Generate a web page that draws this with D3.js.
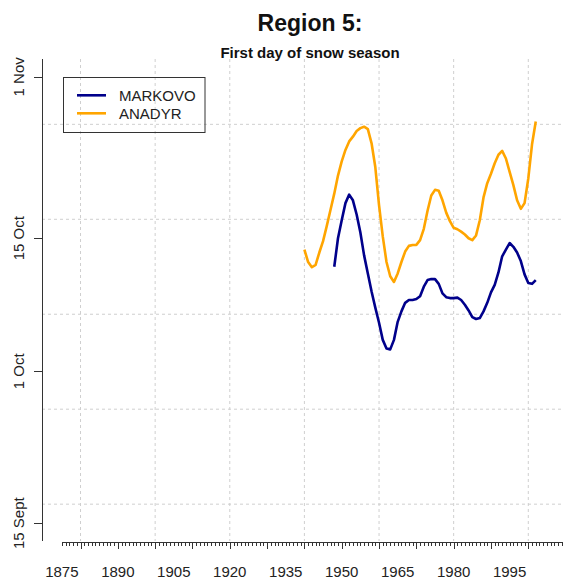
<html lang="en">
<head>
<meta charset="utf-8">
<title>Region 5: First day of snow season</title>
<script src="https://cdn.jsdelivr.net/npm/d3@7"></script>
<style type="text/css">
    body {
        margin: 0;
        background: #fff;
        font-family: "Liberation Sans", Arial, sans-serif;
    }
    .grid line {
        stroke: #cfcfcf;
        stroke-width: 1px;
        stroke-dasharray: 3,3;
    }
    .axis line,
    .axis-line {
        stroke: #333;
        stroke-width: 1px;
        shape-rendering: crispEdges;
    }
    .axis text,
    .lbl {
        fill: #222;
        font-size: 15px;
    }
</style>
</head>
<body>
<svg id="chart"></svg>
<script type="text/javascript">

    // first snow day, as day of year (258 = 15 Sept, 305 = 1 Nov)
    var anadyrStart = 1940;
    var anadyrDays = [
        286.8, 285.5, 284.95, 285.2, 286.5, 287.7, 289.3, 291.0, 292.7, 294.6,
        296.1, 297.3, 298.2, 298.7, 299.3, 299.6, 299.75, 299.5, 298.0, 295.5,
        291.5, 288.2, 285.5, 284.0, 283.4, 284.3, 285.5, 286.6, 287.2, 287.3,
        287.3, 287.8, 289.0, 290.9, 292.5, 293.1, 293.0, 292.0, 290.7, 289.8,
        289.1, 288.95, 288.7, 288.4, 288.0, 287.8, 288.3, 289.9, 292.3, 293.8,
        294.8, 295.9, 296.8, 297.2, 296.4, 295.0, 293.6, 292.0, 291.1, 291.7,
        294.3, 297.9, 300.3
    ];

    var markovoStart = 1948;
    var markovoDays = [
        285.0, 288.0, 289.9, 291.7, 292.6, 292.0, 290.5, 288.6, 286.2, 284.3,
        282.4, 280.7, 279.1, 277.3, 276.4, 276.3, 277.3, 279.2, 280.3, 281.2,
        281.5, 281.5, 281.6, 281.9, 282.9, 283.6, 283.7, 283.7, 283.2, 282.2,
        281.8, 281.7, 281.7, 281.75, 281.5, 281.0, 280.4, 279.7, 279.5, 279.6,
        280.3, 281.2, 282.3, 283.1, 284.4, 286.1, 286.8, 287.5, 287.1, 286.5,
        285.6, 284.2, 283.3, 283.2, 283.6
    ];

    var seriesNames = ["MARKOVO", "ANADYR"];
    var seriesColors = ["#00008b", "#ffa500"];

    var yTickDays = [258, 274, 288, 305];
    var yTickLabels = ["15 Sept", "1 Oct", "15 Oct", "1 Nov"];
    var yGridDays = [260, 270, 280, 290, 300];

    var xLabelYears = [1875, 1890, 1905, 1920, 1935, 1950, 1965, 1980, 1995];
    var xGridYears = [1880, 1900, 1920, 1940, 1960, 1980, 2000];
    var xMajorYears = [1880, 1890, 1900, 1910, 1920, 1930, 1940, 1950, 1960, 1970, 1980, 1990, 2000, 2010];

    var width = 563,
        height = 584;

    var plot = {left: 42, right: 578, top: 59, bottom: 541};

    // R style limits: 1875..2008 and 258..305 stretched by 4%
    var x = d3.scaleLinear()
        .domain([1875 - 0.04 * 133, 2008 + 0.04 * 133])
        .range([plot.left, plot.right]);

    var y = d3.scaleLinear()
        .domain([258 - 0.04 * 47, 305 + 0.04 * 47])
        .range([plot.bottom, plot.top]);

    var svg = d3.select("#chart")
        .attr("width", width)
        .attr("height", height);

    var midX = (plot.left + plot.right) / 2;

    svg.append("text")
        .attr("x", midX)
        .attr("y", 31)
        .attr("text-anchor", "middle")
        .style("font-size", "23px")
        .style("font-weight", "bold")
        .style("fill", "#111")
        .text("Region 5:");

    svg.append("text")
        .attr("x", midX)
        .attr("y", 57.5)
        .attr("text-anchor", "middle")
        .style("font-size", "15px")
        .style("font-weight", "bold")
        .style("fill", "#111")
        .text("First day of snow season");

    // grid
    var grid = svg.append("g").attr("class", "grid");

    grid.selectAll(".gx")
        .data(xGridYears)
        .enter().append("line")
        .attr("class", "gx")
        .attr("x1", function (d) { return x(d); })
        .attr("x2", function (d) { return x(d); })
        .attr("y1", plot.top)
        .attr("y2", plot.bottom);

    grid.selectAll(".gy")
        .data(yGridDays)
        .enter().append("line")
        .attr("class", "gy")
        .attr("x1", plot.left)
        .attr("x2", plot.right)
        .attr("y1", function (d) { return y(d); })
        .attr("y2", function (d) { return y(d); });

    // y axis
    svg.append("line")
        .attr("class", "axis-line")
        .attr("x1", plot.left + 0.5)
        .attr("x2", plot.left + 0.5)
        .attr("y1", plot.top)
        .attr("y2", plot.bottom);

    var yAxis = svg.append("g")
        .attr("class", "axis")
        .attr("transform", "translate(" + (plot.left + 0.5) + ",0)")
        .call(d3.axisLeft(y).tickValues(yTickDays).tickSize(9).tickFormat(""));
    yAxis.select(".domain").remove();

    svg.selectAll(".ylab")
        .data(yTickDays)
        .enter().append("text")
        .attr("class", "lbl ylab")
        .attr("text-anchor", "middle")
        .attr("transform", function (d) {
            return "translate(24," + y(d) + ") rotate(-90)";
        })
        .text(function (d, i) { return yTickLabels[i]; });

    // x axis: yearly minor ticks, longer ones every 10 years
    var axisY = plot.bottom + 1.5;

    svg.append("line")
        .attr("class", "axis-line")
        .attr("x1", x(1875))
        .attr("x2", x(2013))
        .attr("y1", axisY)
        .attr("y2", axisY);

    var xMinor = svg.append("g")
        .attr("class", "axis")
        .attr("transform", "translate(0," + axisY + ")")
        .call(d3.axisBottom(x).tickValues(d3.range(1875, 2014)).tickSize(3).tickFormat(""));
    xMinor.select(".domain").remove();

    var xMajor = svg.append("g")
        .attr("class", "axis")
        .attr("transform", "translate(0," + axisY + ")")
        .call(d3.axisBottom(x).tickValues(xMajorYears).tickSize(6).tickFormat(""));
    xMajor.select(".domain").remove();

    svg.selectAll(".xlab")
        .data(xLabelYears)
        .enter().append("text")
        .attr("class", "lbl xlab")
        .attr("text-anchor", "middle")
        .attr("x", function (d) { return x(d); })
        .attr("y", 576.5)
        .text(function (d) { return d; });

    // curves
    var line = d3.line()
        .x(function (d) { return x(d.year); })
        .y(function (d) { return y(d.day); });

    var markovo = markovoDays.map(function (v, i) { return {year: markovoStart + i, day: v}; });
    var anadyr = anadyrDays.map(function (v, i) { return {year: anadyrStart + i, day: v}; });

    [markovo, anadyr].forEach(function (s, i) {
        svg.append("path")
            .datum(s)
            .attr("fill", "none")
            .attr("stroke", seriesColors[i])
            .attr("stroke-width", 2.6)
            .attr("stroke-linejoin", "round")
            .attr("d", line);
    });

    // legend
    var leg = svg.append("g").attr("class", "legend");

    leg.append("rect")
        .attr("x", 63.5)
        .attr("y", 77.5)
        .attr("width", 141.5)
        .attr("height", 55)
        .attr("fill", "none")
        .attr("stroke", "#333")
        .attr("stroke-width", 1);

    seriesNames.forEach(function (name, i) {
        var ly = 95.3 + i * 18;
        leg.append("line")
            .attr("x1", 77)
            .attr("x2", 106)
            .attr("y1", ly)
            .attr("y2", ly)
            .attr("stroke", seriesColors[i])
            .attr("stroke-width", 2.6);
        leg.append("text")
            .attr("class", "lbl")
            .attr("x", 119)
            .attr("y", ly + 5.5)
            .text(name);
    });

</script>
</body>
</html>
